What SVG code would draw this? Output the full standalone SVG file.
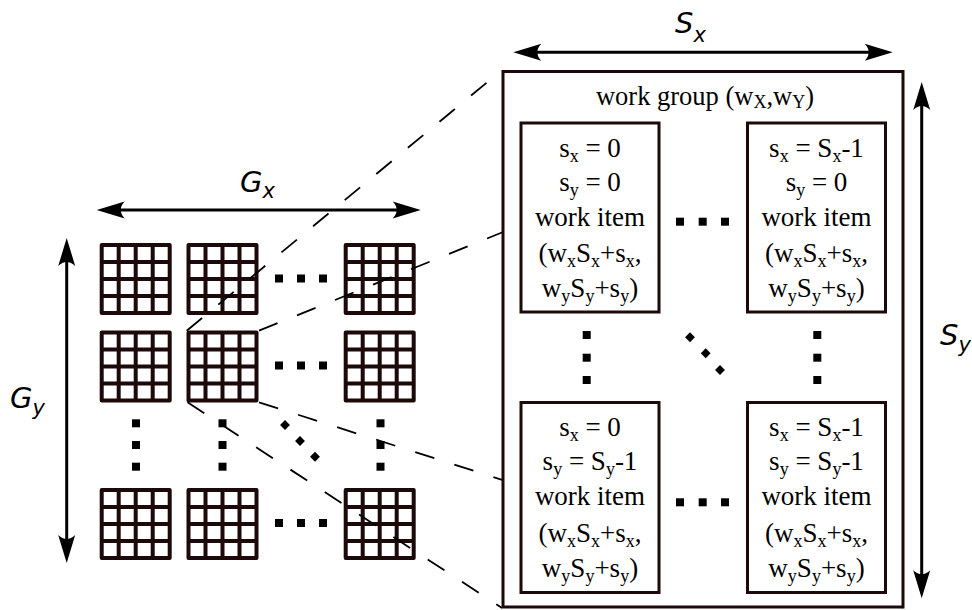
<svg xmlns="http://www.w3.org/2000/svg" width="972" height="610" viewBox="0 0 972 610">
<style>
.grid{fill:none;stroke:#1c0909;stroke-width:4;stroke-linejoin:round}
.dot{fill:#000}
.dash{stroke:#000;stroke-width:1.8;stroke-dasharray:20 21;fill:none}
.dim{stroke:#000;stroke-width:3;fill:none}
.box{fill:#fff;stroke:#1c0909;stroke-width:3}
.lbl{font-family:"DejaVu Sans",sans-serif;font-style:italic;font-size:29px;fill:#000}
.sub{font-size:21px}
.t{font-family:"Liberation Serif","Times New Roman",serif;font-size:27px;fill:#000;text-anchor:middle}
.wg{font-size:26.5px}
.s{font-size:18px}
</style>
<defs>
<g id="g4">
<rect x="0" y="0" width="68" height="68"/>
<path d="M17,0V68M34,0V68M51,0V68M0,17H68M0,34H68M0,51H68"/>
</g>
<rect id="sq" x="-4" y="-4" width="8" height="8"/>
<rect id="dm" x="-3.5" y="-3.5" width="7" height="7" transform="rotate(45)"/>
<marker id="ah" markerUnits="userSpaceOnUse" orient="auto-start-reverse" refX="0" refY="0" markerWidth="40" markerHeight="30" viewBox="-30 -15 40 30" overflow="visible">
<path d="M10,0 L-18,-8.5 Q-10,0 -18,8.5 Z" fill="#000"/>
</marker>
</defs>

<g id="grids" class="grid">
<g id="wg-r1c1"><use href="#g4" x="101.7" y="245"/></g>
<g id="wg-r1c2"><use href="#g4" x="188.5" y="245"/></g>
<g id="wg-r1c3"><use href="#g4" x="345.7" y="245"/></g>
<g id="wg-r2c1"><use href="#g4" x="101.7" y="332.5"/></g>
<g id="wg-r2c2"><use href="#g4" x="188.5" y="332.5"/></g>
<g id="wg-r2c3"><use href="#g4" x="345.7" y="332.5"/></g>
<g id="wg-r3c1"><use href="#g4" x="101.7" y="490"/></g>
<g id="wg-r3c2"><use href="#g4" x="188.5" y="490"/></g>
<g id="wg-r3c3"><use href="#g4" x="345.7" y="490"/></g>
</g>

<g id="grid-dots" class="dot">
<use href="#sq" x="279" y="278.5"/><use href="#sq" x="301" y="278.5"/><use href="#sq" x="323" y="278.5"/>
<use href="#sq" x="279" y="365.5"/><use href="#sq" x="301" y="365.5"/><use href="#sq" x="323" y="365.5"/>
<use href="#sq" x="279" y="523"/><use href="#sq" x="301" y="523"/><use href="#sq" x="323" y="523"/>
<use href="#sq" x="136" y="423.3"/><use href="#sq" x="136" y="445"/><use href="#sq" x="136" y="466.7"/>
<use href="#sq" x="222.5" y="423.3"/><use href="#sq" x="222.5" y="445"/><use href="#sq" x="222.5" y="466.7"/>
<use href="#sq" x="380.5" y="423.3"/><use href="#sq" x="380.5" y="445"/><use href="#sq" x="380.5" y="466.7"/>
<use href="#dm" x="285" y="425"/><use href="#dm" x="300" y="441"/><use href="#dm" x="315" y="456.7"/>
</g>

<g id="connectors" class="dash">
<path d="M186.7,330.7 L502,70"/>
<path d="M259,330.7 L904,70"/>
<path d="M187.5,402.3 L502,608"/>
<path d="M259,402.3 L904,608"/>
</g>

<g id="dimensions" class="dim">
<path d="M106.7,210 H410.7" marker-start="url(#ah)" marker-end="url(#ah)"/>
<path d="M66.7,248 V553" marker-start="url(#ah)" marker-end="url(#ah)"/>
<path d="M523.3,52.3 H882.7" marker-start="url(#ah)" marker-end="url(#ah)"/>
<path d="M921.7,92 V588.3" marker-start="url(#ah)" marker-end="url(#ah)"/>
</g>

<g id="labels" class="lbl">
<text x="240" y="191.7">G<tspan class="sub" dy="6.6">x</tspan></text>
<text x="10" y="408">G<tspan class="sub" dy="6.6">y</tspan></text>
<text x="675" y="33.3">S<tspan class="sub" dy="8.4">x</tspan></text>
<text x="940" y="345">S<tspan class="sub" dy="6.6">y</tspan></text>
</g>

<g id="work-group">
<rect class="box" x="503" y="71.5" width="400" height="535.5"/>
<text class="t wg" x="705" y="105">work group (w<tspan class="s" dy="3">X</tspan><tspan dy="-3">,w</tspan><tspan class="s" dy="3">Y</tspan><tspan dy="-3">)</tspan></text>
</g>

<g id="item-0-0">
<rect class="box" x="521" y="123" width="138" height="189"/>
<text class="t" x="590" y="156.7">s<tspan class="s" dy="5">x</tspan><tspan dy="-5"> = 0</tspan></text>
<text class="t" x="590" y="190.7">s<tspan class="s" dy="5">y</tspan><tspan dy="-5"> = 0</tspan></text>
<text class="t" x="590" y="226">work item</text>
<text class="t" x="590" y="261.7">(w<tspan class="s" dy="5">x</tspan><tspan dy="-5">S</tspan><tspan class="s" dy="5">x</tspan><tspan dy="-5">+s</tspan><tspan class="s" dy="5">x</tspan><tspan dy="-5">,</tspan></text>
<text class="t" x="590" y="296.7">w<tspan class="s" dy="5">y</tspan><tspan dy="-5">S</tspan><tspan class="s" dy="5">y</tspan><tspan dy="-5">+s</tspan><tspan class="s" dy="5">y</tspan><tspan dy="-5">)</tspan></text>
</g>

<g id="item-S-0">
<rect class="box" x="747.5" y="123" width="138" height="189"/>
<text class="t" x="816.5" y="156.7">s<tspan class="s" dy="5">x</tspan><tspan dy="-5"> = S</tspan><tspan class="s" dy="5">x</tspan><tspan dy="-5">-1</tspan></text>
<text class="t" x="816.5" y="190.7">s<tspan class="s" dy="5">y</tspan><tspan dy="-5"> = 0</tspan></text>
<text class="t" x="816.5" y="226">work item</text>
<text class="t" x="816.5" y="261.7">(w<tspan class="s" dy="5">x</tspan><tspan dy="-5">S</tspan><tspan class="s" dy="5">x</tspan><tspan dy="-5">+s</tspan><tspan class="s" dy="5">x</tspan><tspan dy="-5">,</tspan></text>
<text class="t" x="816.5" y="296.7">w<tspan class="s" dy="5">y</tspan><tspan dy="-5">S</tspan><tspan class="s" dy="5">y</tspan><tspan dy="-5">+s</tspan><tspan class="s" dy="5">y</tspan><tspan dy="-5">)</tspan></text>
</g>

<g id="item-0-S">
<rect class="box" x="521" y="402.5" width="138" height="190"/>
<text class="t" x="590" y="436">s<tspan class="s" dy="5">x</tspan><tspan dy="-5"> = 0</tspan></text>
<text class="t" x="590" y="470">s<tspan class="s" dy="5">y</tspan><tspan dy="-5"> = S</tspan><tspan class="s" dy="5">y</tspan><tspan dy="-5">-1</tspan></text>
<text class="t" x="590" y="504.5">work item</text>
<text class="t" x="590" y="541.5">(w<tspan class="s" dy="5">x</tspan><tspan dy="-5">S</tspan><tspan class="s" dy="5">x</tspan><tspan dy="-5">+s</tspan><tspan class="s" dy="5">x</tspan><tspan dy="-5">,</tspan></text>
<text class="t" x="590" y="576.5">w<tspan class="s" dy="5">y</tspan><tspan dy="-5">S</tspan><tspan class="s" dy="5">y</tspan><tspan dy="-5">+s</tspan><tspan class="s" dy="5">y</tspan><tspan dy="-5">)</tspan></text>
</g>

<g id="item-S-S">
<rect class="box" x="747.5" y="402.5" width="138" height="190"/>
<text class="t" x="816.5" y="436">s<tspan class="s" dy="5">x</tspan><tspan dy="-5"> = S</tspan><tspan class="s" dy="5">x</tspan><tspan dy="-5">-1</tspan></text>
<text class="t" x="816.5" y="470">s<tspan class="s" dy="5">y</tspan><tspan dy="-5"> = S</tspan><tspan class="s" dy="5">y</tspan><tspan dy="-5">-1</tspan></text>
<text class="t" x="816.5" y="504.5">work item</text>
<text class="t" x="816.5" y="541.5">(w<tspan class="s" dy="5">x</tspan><tspan dy="-5">S</tspan><tspan class="s" dy="5">x</tspan><tspan dy="-5">+s</tspan><tspan class="s" dy="5">x</tspan><tspan dy="-5">,</tspan></text>
<text class="t" x="816.5" y="576.5">w<tspan class="s" dy="5">y</tspan><tspan dy="-5">S</tspan><tspan class="s" dy="5">y</tspan><tspan dy="-5">+s</tspan><tspan class="s" dy="5">y</tspan><tspan dy="-5">)</tspan></text>
</g>

<g id="item-dots" class="dot">
<use href="#sq" x="680" y="221.7"/><use href="#sq" x="702.7" y="221.7"/><use href="#sq" x="725" y="221.7"/>
<use href="#sq" x="680" y="502.3"/><use href="#sq" x="702.7" y="502.3"/><use href="#sq" x="725" y="502.3"/>
<use href="#sq" x="586.7" y="335"/><use href="#sq" x="586.7" y="357.7"/><use href="#sq" x="586.7" y="380"/>
<use href="#sq" x="817.3" y="335"/><use href="#sq" x="817.3" y="357.7"/><use href="#sq" x="817.3" y="380"/>
<use href="#dm" x="690" y="337.3"/><use href="#dm" x="705.7" y="353.3"/><use href="#dm" x="720" y="370"/>
</g>
</svg>
